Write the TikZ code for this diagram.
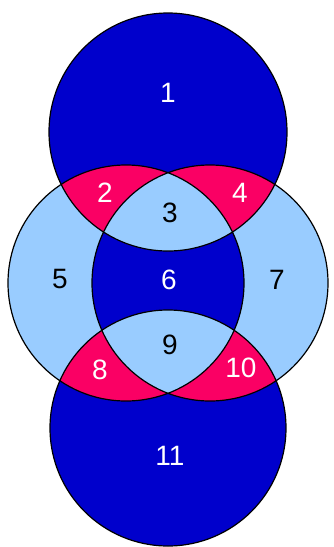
\documentclass[tikz,border=0pt]{standalone}
\usepackage{fontspec}
\setmainfont{Liberation Sans}
\definecolor{darkblue}{RGB}{0,0,204}
\definecolor{lightblue}{RGB}{153,204,255}
\definecolor{setpink}{RGB}{250,0,100}
\newcommand{\topset}{(168,132) circle (119)}
\newcommand{\leftset}{(126,283) circle (118)}
\newcommand{\rightset}{(210,283) circle (118)}
\newcommand{\botset}{(168,428) circle (118)}
\tikzset{
  onblue/.style={text=white, font=\fontsize{21}{24}\selectfont},
  onlight/.style={text=black, font=\fontsize{21}{24}\selectfont},
}

\begin{document}
\begin{tikzpicture}[x=0.75pt, y=-0.75pt]
\useasboundingbox (0,0) rectangle (333,547);
% side sets and their overlap
\fill[lightblue] \leftset;
\fill[lightblue] \rightset;
\begin{scope}
\clip \leftset;
\fill[darkblue] \rightset;
\end{scope}
% top set
\fill[darkblue] \topset;
\begin{scope}
\clip \topset;
\fill[setpink] \leftset;
\fill[setpink] \rightset;
\clip \leftset;
\fill[lightblue] \rightset;
\end{scope}
% bottom set
\fill[darkblue] \botset;
\begin{scope}
\clip \botset;
\fill[setpink] \leftset;
\fill[setpink] \rightset;
\clip \leftset;
\fill[lightblue] \rightset;
\end{scope}
% outlines
\draw[line width=0.9pt] \topset \leftset \rightset \botset;
% region labels
\node[onblue] (r1) at (168,93) {1};
\node[onblue] (r2) at (105,193) {2};
\node[onlight] (r3) at (170,213) {3};
\node[onblue] (r4) at (240,193) {4};
\node[onlight] (r5) at (60,279) {5};
\node[onblue] (r6) at (169,280) {6};
\node[onlight] (r7) at (277,280) {7};
\node[onblue] (r8) at (100,370) {8};
\node[onlight] (r9) at (170,345) {9};
\node[onblue] (r10) at (241,368) {10};
\node[onblue] (r11) at (170,456) {11};
\end{tikzpicture}
\end{document}
